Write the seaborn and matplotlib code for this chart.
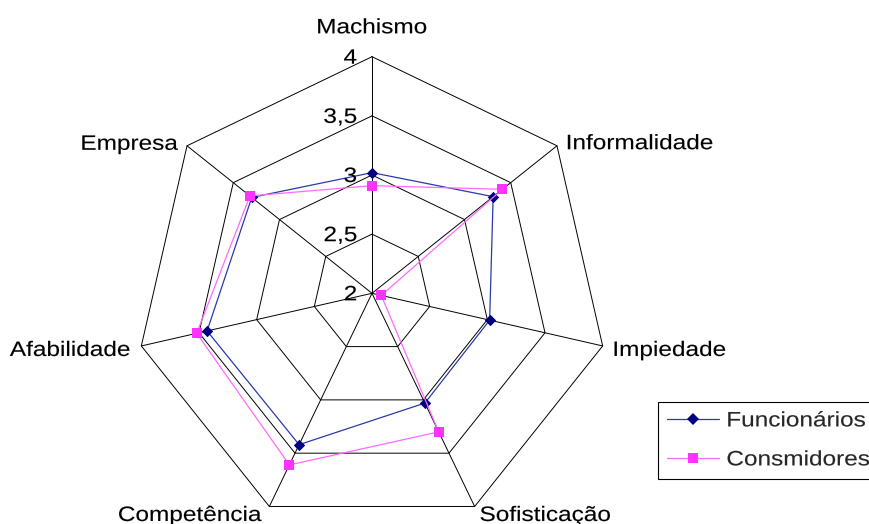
import numpy as np
import pandas as pd
import matplotlib
matplotlib.use("Agg")
import matplotlib.pyplot as plt
import seaborn as sns
from matplotlib.lines import Line2D
from matplotlib.patheffects import AbstractPathEffect
from matplotlib.transforms import Affine2D

# ---- data -------------------------------------------------------------
attributes = ["Machismo", "Informalidade", "Impiedade", "Sofisticação",
              "Competência", "Afabilidade", "Empresa"]
funcionarios = [3.02, 3.31, 3.02, 3.03, 3.42, 3.43, 3.30]
consmidores = [2.91, 3.41, 2.08, 3.30, 3.61, 3.52, 3.32]
series_names = ["Funcionários", "Consmidores"]
ring_values = [2.0, 2.5, 3.0, 3.5, 4.0]
ring_labels = ["2", "2,5", "3", "3,5", "4"]

# ---- style ------------------------------------------------------------
sns.set_style("white")
plt.rcParams["font.family"] = ["Liberation Sans", "DejaVu Sans"]
FS = 15
line_colors = {"Funcionários": "#2b3aa8", "Consmidores": "#ff6bff"}
marker_colors = {"Funcionários": "#000080", "Consmidores": "#ff33ff"}
markers = {"Funcionários": "D", "Consmidores": "s"}
marker_sizes = {"Funcionários": 5.8, "Consmidores": 7.3}


class HStretch(AbstractPathEffect):
    """Widen glyph outlines horizontally about one edge of the text,
    with a faint outline to give the strokes a little more weight."""

    def __init__(self, factor=1.17, anchor="center", weight=0.1):
        super().__init__()
        self.factor = factor
        self.anchor = anchor
        self.weight = weight

    def draw_path(self, renderer, gc, tpath, affine, rgbFace=None):
        ext = tpath.get_extents(affine)
        if self.anchor == "left":
            x0 = ext.x0
        elif self.anchor == "right":
            x0 = ext.x1
        else:
            x0 = 0.5 * (ext.x0 + ext.x1)
        t = affine + Affine2D().translate(-x0, 0).scale(self.factor, 1).translate(x0, 0)
        gc0 = renderer.new_gc()
        gc0.copy_properties(gc)
        gc0.set_linewidth(self.weight)
        if rgbFace is not None:
            gc0.set_foreground(rgbFace)
        renderer.draw_path(gc0, tpath, t, rgbFace)
        gc0.restore()


# ---- figure and polar axes ---------------------------------------------
W, H = 869, 524
fig = plt.figure(figsize=(W / 100, H / 100), dpi=100)
fig.patch.set_facecolor("white")
cx, cy, R = 372.0, 293.3, 236.6
ax = fig.add_axes([(cx - R) / W, (H - cy - R) / H, 2 * R / W, 2 * R / H],
                  projection="polar")
ax.set_theta_zero_location("N")
ax.set_theta_direction(-1)
ax.set_ylim(ring_values[0], ring_values[-1])
ax.grid(False)
ax.set_xticks([])
ax.set_yticks([])
ax.spines["polar"].set_visible(False)
ax.patch.set_visible(False)

n = len(attributes)
theta = np.arange(n) * 2 * np.pi / n
theta_closed = np.append(theta, 2 * np.pi)

# polygonal rings and spokes
for r in ring_values[1:]:
    ax.plot(theta_closed, [r] * (n + 1), color="black", lw=0.7,
            clip_on=False, zorder=1)
for t in theta:
    ax.plot([t, t], [ring_values[0], ring_values[-1]], color="black", lw=0.7,
            clip_on=False, zorder=1)

# ---- series -------------------------------------------------------------
rows = []
for name, vals in zip(series_names, [funcionarios, consmidores]):
    closed_attrs = attributes + [attributes[0]]
    closed_vals = list(vals) + [vals[0]]
    for i, (a, v) in enumerate(zip(closed_attrs, closed_vals)):
        rows.append({"series": name, "attribute": a,
                     "theta": theta_closed[i], "value": v})
df = pd.DataFrame(rows)

for k, name in enumerate(series_names):
    sub = df[df["series"] == name]
    sns.lineplot(data=sub, x="theta", y="value", sort=False, estimator=None,
                 color=line_colors[name], lw=0.9, ax=ax, legend=False,
                 clip_on=False, zorder=3 + 2 * k)
    pts = sub.iloc[:-1]
    sns.scatterplot(data=pts, x="theta", y="value", marker=markers[name],
                    s=marker_sizes[name] ** 2, color=marker_colors[name],
                    linewidth=0, ax=ax, legend=False, clip_on=False,
                    zorder=4 + 2 * k)

ax.set_xlabel("")
ax.set_ylabel("")
ax.set_xlim(0, 2 * np.pi)
ax.set_ylim(ring_values[0], ring_values[-1])

# ---- category labels ----------------------------------------------------
label_offsets = [(0, 23.4, "center"), (9, -3.4, "left"), (10, -10, "left"),
                 (5, -14.5, "left"), (-7.5, -14.5, "right"),
                 (-11, -10, "right"), (-9, -4, "right")]
for t, name, (dx, dy, ha) in zip(theta, attributes, label_offsets):
    txt = ax.annotate(name, xy=(t, ring_values[-1]), xytext=(dx, dy),
                      textcoords="offset pixels", ha=ha, va="baseline",
                      fontsize=FS, color="black", annotation_clip=False)
    txt.set_path_effects([HStretch(anchor=ha)])

# ---- ring value labels along the first spoke -----------------------------
for r, lbl in zip(ring_values, ring_labels):
    txt = ax.annotate(lbl, xy=(0, r), xytext=(-15, -7),
                      textcoords="offset pixels", ha="right", va="baseline",
                      fontsize=FS, color="black", annotation_clip=False)
    txt.set_path_effects([HStretch(anchor="right")])

# ---- legend -------------------------------------------------------------
handles = [Line2D([], [], color=line_colors[nm], lw=0.9, marker=markers[nm],
                  markersize=marker_sizes[nm], markerfacecolor=marker_colors[nm],
                  markeredgecolor=marker_colors[nm], markeredgewidth=0)
           for nm in series_names]
leg = fig.legend(handles=handles, labels=series_names, loc="upper left",
                 bbox_to_anchor=(658 / W, 1 - 402 / H, (890 - 658) / W, 0),
                 bbox_transform=fig.transFigure, mode="expand",
                 borderaxespad=0, borderpad=0.45, handlelength=2.5,
                 handletextpad=0.34, labelspacing=0.96, numpoints=1,
                 frameon=True, fancybox=False, framealpha=1, fontsize=FS)
leg.get_frame().set_edgecolor("black")
leg.get_frame().set_linewidth(0.8)
for t in leg.get_texts():
    t.set_path_effects([HStretch(anchor="left")])

fig.savefig("out.png", dpi=100, facecolor="white")
